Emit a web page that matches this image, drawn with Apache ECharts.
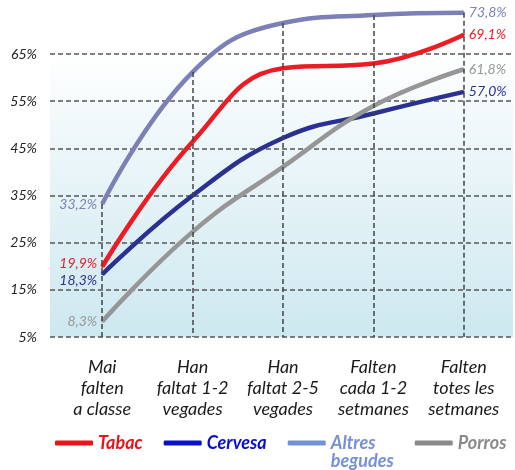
<!DOCTYPE html>
<html>
<head>
<meta charset="utf-8">
<script src="https://cdn.jsdelivr.net/npm/echarts@6/dist/echarts.min.js"></script>
<style>
  html, body { margin: 0; padding: 0; background: #fff; }
  #chart { width: 515px; height: 470px; }
</style>
</head>
<body>
<div id="chart"></div>
<script>
  const categories = [
    'Mai\nfalten\na classe',
    'Han\nfaltat 1-2\nvegades',
    'Han\nfaltat 2-5\nvegades',
    'Falten\ncada 1-2\nsetmanes',
    'Falten\ntotes les\nsetmanes'
  ];
  const tabac = [19.9, 46.4, 62.0, 63.0, 69.1];
  const cervesa = [18.3, 35.0, 47.2, 52.4, 57.0];
  const altres = [33.2, 61.2, 71.6, 73.3, 73.8];
  const porros = [8.3, 27.3, 41.1, 54.0, 61.8];

  const names = ['Tabac', 'Cervesa', 'Altres begudes', 'Porros'];
  const lineColors = ['#ec1c24', '#2b3192', '#7b80b6', '#969696'];
  const legendColors = ['#e8141b', '#0a10c8', '#7590d6', '#8a8a8a'];

  const fmt = v => v.toFixed(1).replace('.', ',') + '%';

  // only the first and last point get a label
  function buildData(values, firstOffset) {
    const last = values.length - 1;
    return values.map((v, i) => {
      if (i === 0) {
        return { value: v, label: { show: true, position: 'left', offset: firstOffset } };
      }
      if (i === last) {
        return { value: v, label: { show: true, position: 'right' } };
      }
      return v;
    });
  }

  function lineSeries(name, values, color, firstOffset) {
    return {
      name: name,
      type: 'line',
      xAxisIndex: 1,
      yAxisIndex: 1,
      smooth: 0.45,
      symbol: 'circle',
      symbolSize: 2,
      z: 3,
      itemStyle: { color: color },
      lineStyle: { color: color, width: 4.5 },
      label: {
        show: false,
        color: color,
        fontFamily: 'Lato',
        fontStyle: 'italic',
        fontSize: 14,
        distance: 4,
        formatter: p => fmt(p.value)
      },
      data: buildData(values, firstOffset)
    };
  }

  const chart = echarts.init(document.getElementById('chart'));

  const option = {
    animation: false,
    grid: [
      {
        left: 50, right: 2, top: 54, bottom: 133,
        show: true,
        borderWidth: 0,
        backgroundColor: new echarts.graphic.LinearGradient(0, 0, 0, 1, [
          { offset: 0, color: '#ffffff' },
          { offset: 0.3, color: '#eef7fa' },
          { offset: 1, color: '#cde8f0' }
        ])
      },
      { left: 57, right: 6, top: 7, bottom: 133 }
    ],
    xAxis: [
      { gridIndex: 0, type: 'category', data: categories, show: false },
      {
        gridIndex: 1,
        type: 'category',
        data: categories,
        boundaryGap: true,
        axisLine: { show: false },
        axisTick: { show: false },
        splitLine: { show: false },
        axisLabel: {
          margin: 20,
          color: '#1a1a1a',
          fontFamily: 'Lato',
          fontStyle: 'italic',
          fontSize: 18,
          lineHeight: 21,
          interval: 0
        }
      }
    ],
    yAxis: [
      {
        gridIndex: 0,
        type: 'value',
        min: 5, max: 65, interval: 10,
        axisLine: { show: false },
        axisTick: { show: false },
        axisLabel: {
          margin: 13,
          color: '#222',
          fontFamily: 'Lato',
          fontStyle: 'italic',
          fontSize: 14,
          formatter: v => v + '%'
        },
        splitLine: {
          show: true,
          lineStyle: { color: '#555', width: 1.5, type: [5, 3] }
        }
      },
      {
        gridIndex: 1,
        type: 'value',
        min: 5, max: 75,
        show: false,
        splitLine: { show: false }
      }
    ],
    legend: {
      left: 50,
      top: 411,
      itemGap: 21,
      itemWidth: 38,
      itemHeight: 5,
      icon: 'roundRect',
      textStyle: {
        fontFamily: 'Lato',
        fontStyle: 'italic',
        fontWeight: 'bold',
        fontSize: 18,
        lineHeight: 18
      },
      data: names.map((n, i) => ({
        name: n,
        itemStyle: { color: legendColors[i] },
        textStyle: { color: legendColors[i] }
      })),
      // empty first line keeps the icon level with "Altres"
      formatter: n => n === 'Altres begudes' ? ' \nAltres\nbegudes' : n
    },
    series: [
      {
        name: 'guides',
        type: 'line',
        xAxisIndex: 1,
        yAxisIndex: 1,
        data: altres,
        symbol: 'none',
        silent: true,
        z: 1,
        lineStyle: { opacity: 0 },
        markLine: {
          silent: true,
          symbol: 'none',
          label: { show: false },
          lineStyle: { color: '#444', width: 1.5, type: [5, 3] },
          data: altres.map((v, i) => [
            { coord: [i, v] },
            { coord: [i, 5] }
          ])
        }
      },
      lineSeries('Tabac', tabac, lineColors[0], [0, -3]),
      lineSeries('Cervesa', cervesa, lineColors[1], [0, 6]),
      lineSeries('Altres begudes', altres, lineColors[2], [0, 0]),
      lineSeries('Porros', porros, lineColors[3], [0, 0])
    ]
  };

  chart.setOption(option);
</script>
</body>
</html>
